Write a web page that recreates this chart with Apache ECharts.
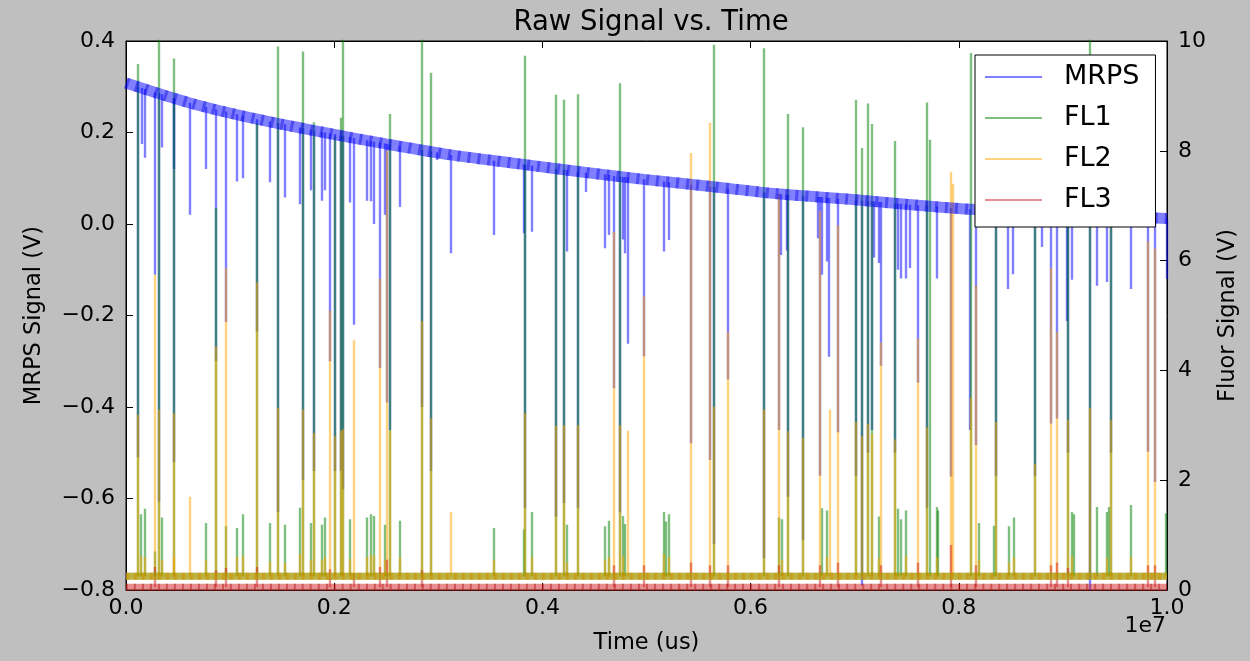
<!DOCTYPE html>
<html>
<head>
<meta charset="utf-8">
<script src="https://cdn.jsdelivr.net/npm/echarts/dist/echarts.min.js"></script>
<style>
html,body{margin:0;padding:0;background:#bfbfbf;}
#chart{width:1250px;height:661px;}
</style>
</head>
<body>
<div id="chart"></div>
<script>
// ---------------- data (time in us, signals in V) ----------------
const seriesNames = ['MRPS', 'FL1', 'FL2', 'FL3'];
const xTickLabels = ['0.0', '0.2', '0.4', '0.6', '0.8', '1.0'];

// MRPS slowly decaying baseline, read along the band
const mrpsBaseline = [
  [0, 0.308], [621500, 0.264], [1261000, 0.229], [1902000, 0.200], [2498000, 0.175],
  [3119000, 0.151], [3759000, 0.132], [4400000, 0.113], [4995000, 0.097], [5617000, 0.082],
  [6257000, 0.066], [6897000, 0.055], [7493000, 0.043], [8114000, 0.032], [9000000, 0.022],
  [10000000, 0.012]
];
// MRPS downward spikes: [time, baseline level, spike bottom]
const mrpsSpikes = [
  [115300,0.300,-0.51],[147000,0.297,0.175],[179600,0.295,0.145],[275700,0.288,-0.111],
  [317000,0.286,-0.607],[339100,0.284,0.167],[454400,0.276,0.12],[461100,0.275,-0.52],
  [608100,0.265,0.02],[761800,0.256,0.12],[861700,0.251,-0.30],[960600,0.246,-0.214],
  [1063400,0.240,0.093],[1121000,0.237,0.10],[1255500,0.229,-0.235],[1383300,0.224,0.091],
  [1453400,0.221,-0.63],[1524500,0.218,0.058],[1671500,0.211,0.043],[1693600,0.210,-0.56],
  [1774300,0.206,0.074],[1805900,0.204,-0.54],[1876100,0.201,0.051],[1908700,0.200,0.074],
  [1956800,0.198,-0.30],[2004800,0.196,-0.54],[2062400,0.193,-0.54],[2077800,0.193,-0.58],
  [2151800,0.190,0.047],[2190200,0.188,-0.22],[2312200,0.183,0.051],[2350600,0.181,0.05],
  [2382300,0.180,0.0],[2433200,0.178,-0.315],[2485100,0.176,0.02],[2504300,0.175,-0.39],
  [2533100,0.174,-0.45],[2632100,0.170,0.037],[2836700,0.162,-0.40],[2927000,0.159,-0.54],
  [2984600,0.157,0.14],[3119100,0.151,-0.064],[3535100,0.138,-0.024],[3816500,0.130,-0.02],
  [3832800,0.130,-0.62],[3893400,0.128,-0.017],[4127800,0.121,-0.64],[4200800,0.119,-0.61],
  [4233400,0.118,-0.06],[4335300,0.115,-0.62],[4418800,0.112,0.07],[4598500,0.108,-0.053],
  [4639800,0.107,-0.024],[4687800,0.105,-0.359],[4745400,0.104,-0.63],[4767500,0.103,-0.034],
  [4790600,0.103,-0.064],[4822300,0.102,-0.262],[4969300,0.098,-0.289],[5161400,0.093,-0.06],
  [5211300,0.092,-0.035],[5422700,0.086,-0.479],[5605200,0.082,-0.516],[5643600,0.081,-0.70],
  [5782900,0.077,-0.34],[6122000,0.069,-0.73],[6268000,0.066,-0.45],[6292000,0.065,-0.068],
  [6347000,0.064,-0.058],[6354500,0.064,-0.596],[6500500,0.062,-0.69],[6640700,0.059,-0.031],
  [6659900,0.059,-0.55],[6683000,0.059,-0.111],[6731000,0.058,-0.082],[6753100,0.057,-0.29],
  [6839600,0.056,-0.455],[7012500,0.052,-0.55],[7065300,0.051,-0.79],[7122900,0.050,-0.50],
  [7163300,0.049,-0.45],[7185400,0.049,-0.073],[7233400,0.048,-0.085],[7247800,0.048,-0.31],
  [7387100,0.045,-0.50],[7416000,0.044,-0.10],[7444700,0.044,-0.119],[7492800,0.043,-0.119],
  [7531200,0.042,-0.096],[7608100,0.041,-0.347],[7687800,0.040,-0.62],[7783900,0.038,-0.119],
  [7920300,0.035,-0.552],[8105000,0.032,-0.45],[8165200,0.031,-0.483],[8357300,0.029,-0.55],
  [8472600,0.027,-0.142],[8520700,0.027,-0.11],[8727200,0.025,-0.55],[8794400,0.024,-0.05],
  [8882800,0.023,-0.436],[8943300,0.022,-0.425],[9036500,0.021,-0.212],[9049000,0.021,-0.50],
  [9084500,0.020,-0.122],[9260300,0.018,-0.80],[9327600,0.017,-0.135],[9420700,0.016,-0.127],
  [9462100,0.016,-0.50],[9649400,0.014,-0.142],[9817500,0.012,-0.498],[9884700,0.012,-0.564],
  [9995200,0.012,-0.12]
];

// fluorescence channel baselines (V on right axis)
const fl1Baseline = [[0, 0.25], [10000000, 0.25]];
const fl2Baseline = [[0, 0.25], [10000000, 0.25]];
const fl3Baseline = [[0, 0.05], [10000000, 0.05]];

// fluorescence upward spikes: [time, peak]
const fl1Spikes = [
  [115300,9.58],[141200,1.38],[179600,1.48],[275700,0.7],[317000,10.5],[339100,1.32],
  [461100,9.68],[761800,1.22],[861700,6.96],[960600,1.16],[1063400,1.13],[1121000,1.38],
  [1255500,8.5],[1383300,1.22],[1453400,9.9],[1524500,1.19],[1671500,1.5],[1693600,9.81],
  [1774300,1.22],[1805900,8.52],[1876100,1.19],[1908700,1.32],[2004800,8.26],[2062400,8.6],
  [2077800,10.5],[2151800,1.29],[2312200,1.32],[2350600,1.38],[2382300,1.35],[2485100,1.19],
  [2533100,8.67],[2632100,1.26],[2836700,10.5],[2927000,9.42],[3535100,1.13],[3816500,1.1],
  [3832800,9.73],[3893400,1.42],[4127800,9.02],[4200800,8.93],[4233400,1.19],[4335300,9.03],
  [4598500,1.16],[4639800,1.26],[4745400,9.23],[4767500,1.35],[4790600,1.2],[5161400,1.42],
  [5182500,1.25],[5211300,1.38],[5643600,9.93],[6122000,9.87],[6268000,1.32],[6301600,1.29],
  [6354500,8.67],[6500500,8.43],[6683000,1.49],[6731000,1.45],[7012500,8.93],[7065300,8.05],
  [7122900,8.86],[7163300,8.49],[7233400,1.34],[7387100,8.18],[7416000,1.48],[7444700,1.29],
  [7492800,1.45],[7687800,8.88],[7716600,8.2],[7783900,1.51],[7800100,1.45],[8112500,9.78],
  [8187300,1.22],[8338100,1.17],[8357300,8.4],[8482300,1.16],[8530300,1.32],[8727200,8.6],
  [9049000,8.2],[9084500,1.42],[9099900,1.38],[9260300,10.5],[9327600,1.51],[9420700,1.42],
  [9436200,1.51],[9462100,8.5],[9649400,1.55],[9990500,1.4]
];
const fl2Spikes = [
  [115300,3.19],[141200,0.62],[179600,0.6],[275700,5.74],[317000,3.29],[339100,0.55],
  [454400,0.6],[461100,3.22],[608100,1.7],[761800,0.55],[861700,4.43],[960600,5.86],
  [1063400,0.6],[1121000,0.62],[1255500,5.6],[1383300,0.52],[1453400,3.32],[1524500,0.5],
  [1671500,0.66],[1693600,3.29],[1774300,0.55],[1805900,2.86],[1876100,0.55],[1908700,0.6],
  [1956800,5.09],[2004800,2.8],[2062400,2.9],[2077800,2.93],[2151800,0.56],[2190200,4.55],
  [2312200,0.6],[2350600,0.64],[2382300,0.62],[2433200,5.67],[2485100,0.55],[2504300,8.0],
  [2533100,2.9],[2632100,0.6],[2836700,4.9],[2927000,3.13],[3119100,1.42],[3535100,0.55],
  [3832800,3.22],[3893400,0.6],[4127800,2.99],[4200800,3.0],[4233400,0.5],[4335300,3.0],
  [4598500,0.55],[4639800,0.6],[4687800,6.52],[4745400,3.0],[4767500,0.62],[4822300,2.9],
  [4969300,5.35],[5161400,0.65],[5211300,0.6],[5422700,7.96],[5605200,8.51],[5643600,3.34],
  [5782900,4.7],[6122000,3.29],[6268000,7.22],[6301600,0.55],[6354500,2.89],[6500500,2.77],
  [6659900,6.9],[6731000,0.6],[6756000,3.29],[6839600,6.64],[7012500,3.06],[7065300,2.8],
  [7122900,3.03],[7163300,2.84],[7233400,0.58],[7247800,4.51],[7387100,2.74],[7492800,0.62],
  [7608100,4.58],[7687800,2.96],[7783900,0.6],[7920300,7.62],[7941300,7.4],[8112500,3.5],
  [8165200,5.54],[8187300,0.55],[8357300,3.06],[8482300,0.5],[8530300,0.6],[8727200,2.3],
  [8882800,5.86],[8943300,4.7],[9049000,3.1],[9084500,0.62],[9260300,3.32],[9420700,0.58],
  [9462100,3.09],[9649400,0.6],[9817500,6.35],[9884700,6.22]
];
const fl3Spikes = [
  [275700,0.42],[861700,0.36],[960600,0.4],[1255500,0.42],[1956800,0.38],[2190200,0.3],
  [2433200,0.42],[2504300,0.55],[2836700,0.36],[4687800,0.45],[4969300,0.45],[5422700,0.5],
  [5605200,0.45],[5782900,0.45],[6268000,0.45],[6659900,0.45],[6839600,0.5],[7247800,0.45],
  [7608100,0.5],[7920300,0.82],[8165200,0.45],[8882800,0.45],[8943300,0.5],[9049000,0.4],
  [9817500,0.45],[9884700,0.45]
];

// ---------------- styling ----------------
const FONT = 'DejaVu Sans';
const colors = { MRPS: '#0000ff', FL1: '#008000', FL2: '#ffa500', FL3: '#d02020' };
const dotColors = { MRPS: '#1010e0', FL2: '#d08a00', FL3: '#b01010' };

function bandSeries(name, data, yAxisIndex, width, opacity) {
  return {
    type: 'line', name: name, data: data, xAxisIndex: 0, yAxisIndex: yAxisIndex,
    symbol: 'none', showSymbol: false, silent: true, clip: true, smooth: 0.3,
    lineStyle: { color: colors[name], width: width, opacity: opacity }
  };
}
function dotSeries(name, data, yAxisIndex, width, dash) {
  return {
    type: 'line', name: name, data: data, xAxisIndex: 0, yAxisIndex: yAxisIndex,
    symbol: 'none', showSymbol: false, silent: true, clip: true, smooth: 0.3,
    lineStyle: { color: dotColors[name], width: width, opacity: 0.45, type: dash }
  };
}
function spikeSeries(name, segs, yAxisIndex) {
  return {
    type: 'lines', name: name, coordinateSystem: 'cartesian2d',
    xAxisIndex: 0, yAxisIndex: yAxisIndex, polyline: false, silent: true, clip: true,
    lineStyle: { color: colors[name], width: 2.4, opacity: 0.5, curveness: 0 },
    data: segs.map(function (c) { return { coords: c }; })
  };
}

const mrpsSegs = mrpsSpikes.map(function (s) { return [[s[0], s[1]], [s[0], s[2]]]; });
const fl1Segs = fl1Spikes.map(function (s) { return [[s[0], fl1Baseline[0][1]], [s[0], s[1]]]; });
const fl2Segs = fl2Spikes.map(function (s) { return [[s[0], fl2Baseline[0][1]], [s[0], s[1]]]; });
const fl3Segs = fl3Spikes.map(function (s) { return [[s[0], fl3Baseline[0][1]], [s[0], s[1]]]; });

const tickFont = { fontSize: 22, color: '#000', fontFamily: FONT };
const nameFont = { fontSize: 22.5, color: '#000', fontFamily: FONT };

function fmtV(v) {
  if (Math.abs(v) < 1e-9) v = 0;
  return v.toFixed(1).replace('-', '\u2212');
}

const chart = echarts.init(document.getElementById('chart'), null, { renderer: 'canvas' });
chart.setOption({
  animation: false,
  backgroundColor: '#bfbfbf',
  textStyle: { fontFamily: FONT },
  title: {
    text: 'Raw Signal vs. Time', left: 646, top: 4, textAlign: 'center',
    textStyle: { fontSize: 27.5, fontWeight: 'normal', color: '#000', fontFamily: FONT }
  },
  grid: {
    left: 126, right: 83, top: 41, bottom: 71, show: true,
    backgroundColor: '#ffffff', borderColor: '#000', borderWidth: 1
  },
  legend: {
    orient: 'vertical', left: 975, top: 55, selectedMode: false,
    backgroundColor: '#ffffff', borderColor: '#000', borderWidth: 1, borderRadius: 0,
    padding: [7, 16, 12, 10], itemGap: 11, itemWidth: 57, itemHeight: 2,
    textStyle: { fontSize: 27, color: '#000', fontFamily: FONT, lineHeight: 30, padding: [0, 0, 0, 17] },
    data: seriesNames.map(function (n) {
      return { name: n, icon: 'rect', itemStyle: { color: colors[n], opacity: 0.5 } };
    })
  },
  xAxis: [{
    type: 'value', position: 'bottom', min: 0, max: 10000000, interval: 2000000,
    name: 'Time (us)', nameLocation: 'middle', nameGap: 42, nameTextStyle: nameFont,
    axisLine: { show: true, onZero: false, lineStyle: { color: '#000', width: 1 } },
    axisTick: { show: true, inside: true, length: 7, lineStyle: { color: '#000' } },
    axisLabel: Object.assign({ margin: 7, formatter: function (v) { return xTickLabels[Math.round(v / 2000000)]; } }, tickFont),
    splitLine: { show: false }
  }, {
    type: 'value', position: 'top', min: 0, max: 10000000, interval: 2000000,
    axisLine: { show: true, onZero: false, lineStyle: { color: '#000', width: 1 } },
    axisTick: { show: true, inside: true, length: 7, lineStyle: { color: '#000' } },
    axisLabel: { show: false }, splitLine: { show: false }
  }],
  yAxis: [{
    type: 'value', position: 'left', min: -0.8, max: 0.4, interval: 0.2,
    name: 'MRPS Signal (V)', nameLocation: 'middle', nameGap: 80, nameRotate: 90, nameTextStyle: nameFont,
    axisLine: { show: true, onZero: false, lineStyle: { color: '#000', width: 1 } },
    axisTick: { show: true, inside: true, length: 7, lineStyle: { color: '#000' } },
    axisLabel: Object.assign({ margin: 11, formatter: fmtV }, tickFont),
    splitLine: { show: false }
  }, {
    type: 'value', position: 'right', min: 0, max: 10, interval: 2,
    name: 'Fluor Signal (V)', nameLocation: 'middle', nameGap: 50, nameRotate: 90, nameTextStyle: nameFont,
    axisLine: { show: true, onZero: false, lineStyle: { color: '#000', width: 1 } },
    axisTick: { show: true, inside: true, length: 7, lineStyle: { color: '#000' } },
    axisLabel: Object.assign({ margin: 11 }, tickFont),
    splitLine: { show: false }
  }],
  graphic: [{
    type: 'text', right: 1250 - 1166, top: 615,
    style: { text: '1e7', font: '22px "DejaVu Sans"', fill: '#000' }
  }],
  series: [
    bandSeries('MRPS', mrpsBaseline, 0, 11, 0.5),
    dotSeries('MRPS', mrpsBaseline, 0, 11, [3, 7]),
    spikeSeries('MRPS', mrpsSegs, 0),
    bandSeries('FL1', fl1Baseline, 1, 7, 0.5),
    spikeSeries('FL1', fl1Segs, 1),
    bandSeries('FL2', fl2Baseline, 1, 7, 0.5),
    dotSeries('FL2', fl2Baseline, 1, 7, [3, 5]),
    spikeSeries('FL2', fl2Segs, 1),
    bandSeries('FL3', fl3Baseline, 1, 7, 0.5),
    dotSeries('FL3', fl3Baseline, 1, 7, [2, 6]),
    spikeSeries('FL3', fl3Segs, 1)
  ]
});
</script>
</body>
</html>
